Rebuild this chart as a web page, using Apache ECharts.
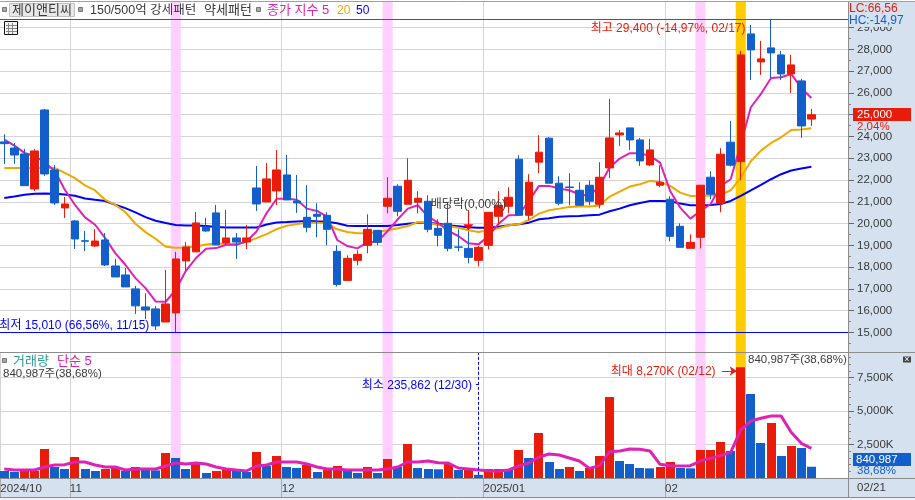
<!DOCTYPE html>
<html>
<head>
<meta charset="utf-8">
<style>
  html, body { margin: 0; padding: 0; background: #fff; }
  #chart { width: 915px; height: 500px; }
</style>
<script src="https://cdn.jsdelivr.net/npm/echarts@6/dist/echarts.min.js"></script>
</head>
<body>
<div id="chart"></div>
<script>
// daily prices (x axis is the trading day index)
const opens = [23750,23470,23200,21590,25218,22463,20717,20120,19210,18970,19247,18053,17640,17000,16170,16080,15480,15895,18283,18700,19845,20490,19110,19340,19155,21636,20993,21498,22233,21039,20288,20426,20380,18724,17390,18310,19000,19690,20794,21715,20887,20979,21025,19782,20012,18925,18862,18310,19000,20334,20794,22957,20380,22819,23923,21853,21680,21531,21761,20887,22556,24072,24394,23842,22694,21761,21117,19874,18862,19368,22129,20933,23739,22847,28712,27426,28069,27747,26874,26553,24800];
const closes = [23670,23150,21740,23335,22279,20947,20900,19293,19190,19200,18100,17548,17090,16220,16030,15300,16310,18375,18926,20030,19660,19020,19340,19155,19340,20901,22050,22463,21085,20947,19828,20334,19736,17205,18402,18586,19736,19138,21163,20564,21991,21163,19736,19460,18862,18915,18448,18908,20518,20840,21209,20380,21899,23279,21853,20933,21660,20840,21025,22129,23934,24164,23842,22877,23383,21899,19414,18908,19138,21761,21347,23187,22681,27747,27977,27564,27839,26874,27288,24485,25000];
const lows = [22740,22740,21740,21498,22190,20855,20258,18834,18742,18924,18050,17548,17090,15850,15610,15110,15480,15010,17820,18700,19620,19020,19020,18375,18834,20580,20993,20855,21085,20488,19598,19368,19000,17113,17390,18080,18632,19000,20472,20334,20887,20472,19598,18954,18724,18724,18172,18034,18816,19920,20472,20380,20150,22313,21853,20840,20840,20840,20840,20702,22083,23567,23383,22648,22648,21669,19184,18908,18862,18862,21117,20518,22620,21991,26599,26828,26691,26599,26001,23934,24485];
const highs = [24100,23700,23430,23430,25264,22692,21222,20166,19660,19740,19570,18375,17962,17135,16800,16220,17870,18700,19155,20530,20260,20855,20625,19570,19940,22646,22784,23381,23152,22233,21761,20933,20518,19000,18540,18770,20426,19690,22129,21807,23003,21485,21300,20196,20963,19736,19644,18970,20518,21485,21669,23141,22267,24061,23970,22175,22313,21899,21991,22819,25726,24300,24394,23934,23888,22681,21255,20012,19506,21761,22405,23463,24715,27931,29125,28391,29400,27931,27747,26645,25266];

const ma5 = [23857,23582,23245,23100,22816,22430,21553,20864,20282,19945,19333,18644,18108,17496,17036,16424,16409,16960,17832,18414,18843,18873,19027,19027,19180,19639,20481,21139,21139,21093,20686,20580,20318,19245,18968,18860,19150,19168,19660,20196,20687,20840,20318,20042,19660,19429,19091,19045,19429,19996,20380,20395,21039,21730,21730,21607,21530,21346,21270,21730,22573,22988,23233,23233,23110,22803,21500,20733,20226,20580,20886,21730,22036,23658,25342,25955,26690,26720,26873,26230,25771];
const ma20 = [22556,22556,22556,22556,22556,22556,22330,22088,21752,21522,21093,20864,20527,19991,19608,19302,18935,18890,18904,18950,19042,19088,19072,19072,19150,19333,19516,19746,19900,19975,20042,20042,20012,19735,19613,19551,19551,19613,19690,19782,19889,20073,20042,19935,19889,19812,19690,19613,19705,19782,19920,19966,20165,20457,20610,20686,20763,20779,20779,20825,21239,21469,21699,21806,21960,21914,21730,21423,21270,21270,21285,21316,21530,22113,22862,23352,23704,23964,24300,24316,24378];
const ma50 = [21170,21246,21323,21369,21384,21369,21338,21277,21155,21093,21032,20864,20710,20512,20297,20129,20022,19930,19915,19915,19884,19838,19823,19823,19823,19823,19961,20052,20068,20098,20119,20103,20088,20012,19904,19889,19889,19889,19889,19935,19996,20042,20042,19996,19920,19873,19827,19812,19812,19858,19920,19966,20042,20196,20242,20318,20334,20349,20380,20410,20564,20687,20840,20947,21039,21039,21024,20917,20840,20840,20855,20901,21039,21270,21530,21775,22036,22267,22436,22528,22605];

// volume in thousands of shares
const volumes = [523,448,523,523,2165,821,672,1567,672,523,672,821,523,821,597,572,1866,1493,672,1045,373,523,672,523,448,1941,896,1642,821,746,970,448,597,896,597,373,821,373,1418,821,2538,746,672,650,1045,597,672,236,672,672,597,2090,1493,3359,1194,672,821,523,746,1642,6046,1269,1045,746,720,821,1194,746,722,2090,2090,2687,2015,8270,6270,2612,4105,1642,2388,2239,841];
const volumeMa = [672,597,597,597,821,970,995,1194,1194,970,821,821,597,672,672,672,896,1120,1045,1120,1045,821,672,597,523,896,970,1194,1194,1194,1045,821,672,672,597,597,597,597,672,821,1194,1194,1269,1144,1120,746,672,597,547,523,597,896,1120,1567,1791,1717,1493,1269,721,920,1966,2015,2165,2140,2015,1020,920,896,920,1269,1468,1667,1916,3583,4254,4454,4628,4628,3409,2588,2214];

const priceTicks = [15000,16000,17000,18000,19000,20000,21000,22000,23000,24000,25000,26000,27000,28000,29000];
const volumeTicks = [2500,5000,7500];
const monthTicks = [-0.4,6.5,27.5,47.5,65.5];
const monthLabels = ['2024/10','11','12','2025/01','02'];
const pinkDays = [17,38,69];
const amberDay = 73;

const RED = '#e91c0b', BLUE = '#125fcc', MAGENTA = '#de22b6', AMBER = '#f0a800', LINE_BLUE = '#0000ff';
const GRID = '#d4d4d4', PANEL = '#d6e1ef', EDGE = '#8c8c8c', TEXT = '#3a3a3a';
const FONT = '"Liberation Sans","Noto Sans CJK KR",sans-serif';

const chart = echarts.init(document.getElementById('chart'), null, { renderer: 'canvas' });

const pair = arr => arr.map((v, i) => [i, v]);

function bands() {
  const list = pinkDays.map(d => [
    { xAxis: d - 0.5, itemStyle: { color: '#ffccff', opacity: 0.92 } },
    { xAxis: d + 0.5 }
  ]);
  list.push([
    { xAxis: amberDay - 0.5, itemStyle: { color: '#ffcc00', opacity: 1 } },
    { xAxis: amberDay + 0.5 }
  ]);
  return { silent: true, z: 1, data: list };
}

// text pinned to a data point, the dot itself stays invisible
function note(coord, text, color, position, offset) {
  return {
    coord, symbol: 'circle', symbolSize: 1, itemStyle: { color: 'rgba(0,0,0,0)' },
    label: {
      show: true, formatter: text, color, position, offset, distance: 5,
      fontSize: 12, fontFamily: FONT
    }
  };
}

function maLine(name, data, color, width, xIdx, extra) {
  return Object.assign({
    name, type: 'line', xAxisIndex: xIdx, yAxisIndex: xIdx, data: pair(data),
    symbol: 'none', z: 3, animation: false, silent: true,
    lineStyle: { color, width }
  }, extra || {});
}

function txt(x, y, text, color, align, size) {
  return {
    type: 'text', x, y, z: 60,
    style: { text, fill: color, font: (size || 12) + 'px ' + FONT, align: align || 'left', verticalAlign: 'middle' }
  };
}
function box(x, y, width, height, fill, stroke, z) {
  return { type: 'rect', z: z == null ? 50 : z, shape: { x, y, width, height }, style: { fill, stroke: stroke || 'none', lineWidth: 1 } };
}
function hline(x1, x2, y, color, z) {
  return { type: 'line', z: z == null ? 55 : z, shape: { x1, y1: y, x2, y2: y }, style: { stroke: color, lineWidth: 1 } };
}
function vline(x, y1, y2, color, z) {
  return { type: 'line', z: z == null ? 55 : z, shape: { x1: x, y1, x2: x, y2 }, style: { stroke: color, lineWidth: 1 } };
}

// volume bars drawn through api.coord so their width stays 9px on the value x axis
function renderVolume(params, api) {
  const top = api.coord([api.value(0), api.value(1)]);
  const base = api.coord([api.value(0), 0]);
  return {
    type: 'rect',
    shape: { x: Math.round(top[0] - 4.5), y: top[1], width: 9, height: base[1] - top[1] },
    style: { fill: api.value(2) ? RED : BLUE }
  };
}

const iconLines = [];
for (const y of [25.5, 28.5, 31.5]) iconLines.push(hline(6, 17, y, '#888', 56));
for (const x of [8.5, 12.5]) iconLines.push(vline(x, 23, 34, '#888', 56));

const graphics = [
  // panels behind axis labels
  box(848.5, 2, 67, 495, PANEL, 'none', -1),
  box(0, 479, 849, 18, PANEL, 'none', -1),
  box(0, 498, 915, 2, '#f0f0f0', 'none', -1),
  // LC / HC block hides the top tick label
  box(849, 2, 66, 25, PANEL),
  hline(0, 915, 1.5, '#a0a0a0'),
  hline(0, 915, 352.5, EDGE),
  hline(0, 915, 478.5, EDGE),
  hline(0, 915, 497.5, EDGE),
  vline(848.5, 2, 497, EDGE),
  // header
  box(2.5, 7.5, 4, 4, '#a8a8a8', '#777'),
  box(9.5, 3.5, 65, 13, '#e8e8e8', '#c0c0c0'),
  txt(42, 10.5, '제이앤티씨', TEXT, 'center', 13),
  box(78.5, 7.5, 4, 4, '#a8a8a8', '#777'),
  txt(90, 10.5, '150/500억 강세패턴', TEXT, 'left', 12.5),
  txt(204, 10.5, '약세패턴', TEXT, 'left', 13),
  box(256.5, 7.5, 4, 4, '#a8a8a8', '#777'),
  txt(267, 10.5, '종가 지수 5', MAGENTA, 'left', 13),
  txt(337, 10.5, '20', AMBER),
  txt(356, 10.5, '50', LINE_BLUE),
  // table icon
  box(4.5, 21.5, 13, 13, '#f4f4f4', '#111'),
  ...iconLines,
  // right side values
  txt(849, 9, 'LC:66,56', RED),
  txt(849, 21, 'HC:-14,97', BLUE),
  box(853, 108, 58, 13, RED),
  txt(857, 114.5, '25,000', '#fff', 'left', 11.5),
  txt(857, 127, '2,04%', RED, 'left', 11.5),
  box(853, 453, 58, 13, BLUE),
  txt(856, 459.5, '840,987', '#fff', 'left', 11.5),
  txt(857, 471, '38,68%', BLUE, 'left', 11.5),
  box(903, 356.5, 8, 6, '#444'),
  txt(907, 359.5, '×', '#fff', 'center', 9),
  txt(857, 488, '02/21', TEXT, 'left', 11.5),
  // volume header
  box(2.5, 358.5, 4, 4, '#a8a8a8', '#777'),
  txt(13, 361, '거래량', '#2a9d8f', 'left', 13),
  txt(57, 361, '단순 5', MAGENTA, 'left', 13),
  txt(3, 374, '840,987주(38,68%)', TEXT, 'left', 11.5),
  txt(748, 360, '840,987주(38,68%)', TEXT, 'left', 11.5)
];

const option = {
  animation: false,
  backgroundColor: 'transparent',
  textStyle: { fontFamily: FONT },
  graphic: { elements: graphics },
  grid: [
    { left: 0, width: 848, top: 1.5, height: 352.7, outerBoundsMode: 'none' },
    { left: 0, width: 848, top: 352.5, height: 125.5, outerBoundsMode: 'none' }
  ],
  xAxis: [
    {
      type: 'value', gridIndex: 0, min: -0.426, max: 83.63,
      axisLine: { show: false, onZero: false }, axisLabel: { show: false },
      axisTick: { show: false, customValues: monthTicks.slice(1) },
      splitLine: { show: true, lineStyle: { color: GRID, width: 1 } }
    },
    {
      type: 'value', gridIndex: 1, min: -0.426, max: 83.63,
      axisLine: { show: false, onZero: false },
      axisTick: { show: true, customValues: monthTicks, length: 19, lineStyle: { color: '#aaaaaa' } },
      axisLabel: {
        show: true, customValues: monthTicks, align: 'left', margin: 4, color: TEXT,
        fontSize: 11.5, fontFamily: FONT, verticalAlign: 'top', padding: [1, 0, 0, 0],
        formatter: v => monthLabels[monthTicks.indexOf(v)] || ''
      },
      splitLine: { show: true, lineStyle: { color: GRID, width: 1 } }
    }
  ],
  yAxis: [
    {
      type: 'value', gridIndex: 0, position: 'right', min: 14000, max: 30200, interval: 1000,
      axisLine: { show: false, onZero: false },
      axisTick: { show: true, length: 6, customValues: priceTicks, lineStyle: { color: '#666' } },
      minorTick: { show: true, splitNumber: 2, length: 3, lineStyle: { color: '#888' } },
      axisLabel: {
        customValues: priceTicks, margin: 9, color: TEXT, fontSize: 11.5, fontFamily: FONT,
        formatter: v => v.toLocaleString('en-US')
      },
      splitLine: { show: true, lineStyle: { color: GRID, width: 1 } }
    },
    {
      type: 'value', gridIndex: 1, position: 'right', min: 0, max: 9366, interval: 2500,
      axisLine: { show: false, onZero: false },
      axisTick: { show: true, length: 6, customValues: volumeTicks, lineStyle: { color: '#666' } },
      minorTick: { show: true, splitNumber: 5, length: 3, lineStyle: { color: '#888' } },
      axisLabel: {
        customValues: volumeTicks, margin: 9, color: TEXT, fontSize: 11.5, fontFamily: FONT,
        formatter: v => v.toLocaleString('en-US') + 'K'
      },
      splitLine: { show: true, lineStyle: { color: GRID, width: 1 } }
    }
  ],
  series: [
    maLine('ma50', ma50, LINE_BLUE, 2, 0, { markArea: bands() }),
    maLine('ma20', ma20, AMBER, 2, 0),
    maLine('ma5', ma5, MAGENTA, 2, 0),
    {
      name: 'price', type: 'candlestick', xAxisIndex: 0, yAxisIndex: 0, z: 5, silent: true,
      barWidth: 8,
      data: opens.map((o, i) => [i, o, closes[i], lows[i], highs[i]]),
      itemStyle: { color: RED, color0: BLUE, borderColor: RED, borderColor0: BLUE, borderWidth: 1 },
      markLine: {
        silent: true, symbol: 'none', z: 6, label: { show: false }, animation: false,
        data: [
          { yAxis: 29400, lineStyle: { color: RED, width: 1, type: 'solid' } },
          { yAxis: 15010, lineStyle: { color: LINE_BLUE, width: 1, type: 'solid' } },
          [{ coord: [46, 20610], lineStyle: { color: '#ff0000', width: 1, type: 'solid' } }, { coord: [46, 19950] }]
        ]
      },
      markPoint: {
        silent: true, z: 7, animation: false,
        data: [
          note([76, 29400], '최고 29,400 (-14,97%, 02/17)', RED, 'left', [-20, 10]),
          note([17, 15010], '최저 15,010 (66,56%, 11/15)', LINE_BLUE, 'left', [-21, -7]),
          { coord: [46, 19830], symbol: 'triangle', symbolRotate: 180, symbolSize: [10, 6], itemStyle: { color: '#ff0000' }, label: { show: false } },
          note([46, 20610], '배당락(0,00%)', TEXT, 'top', [0, 6])
        ]
      }
    },
    {
      name: 'volume', type: 'custom', xAxisIndex: 1, yAxisIndex: 1, z: 3, silent: true,
      renderItem: renderVolume,
      encode: { x: 0, y: 1 },
      data: volumes.map((v, i) => [i, v, i > 0 && v >= volumes[i - 1] ? 1 : 0]),
      markArea: bands(),
      markLine: {
        silent: true, z: 6, label: { show: false }, animation: false, symbol: 'none',
        lineStyle: { color: LINE_BLUE, width: 1, type: 'solid' },
        data: [
          [{ coord: [47, 236], lineStyle: { color: LINE_BLUE, width: 1, type: [3, 2] } }, { coord: [47, 9366] }],
          [{ coord: [46.75, 7015] }, { coord: [47, 7015] }],
          [{ coord: [71.15, 7985], symbol: 'none', lineStyle: { color: RED, width: 1, type: 'solid' } }, { coord: [72.6, 7985], symbol: 'arrow', symbolSize: 7, lineStyle: { color: RED }, itemStyle: { color: RED } }]
        ]
      },
      markPoint: {
        silent: true, z: 7, animation: false,
        data: [
          note([47, 7015], '최소 235,862 (12/30)', LINE_BLUE, 'left', [-1, 2]),
          note([71.15, 7985], '최대 8,270K (02/12)', RED, 'left', [-1, 1])
        ]
      }
    },
    maLine('volumeMa', volumeMa, MAGENTA, 3, 1, { z: 4 })
  ]
};

chart.setOption(option);
</script>
</body>
</html>
